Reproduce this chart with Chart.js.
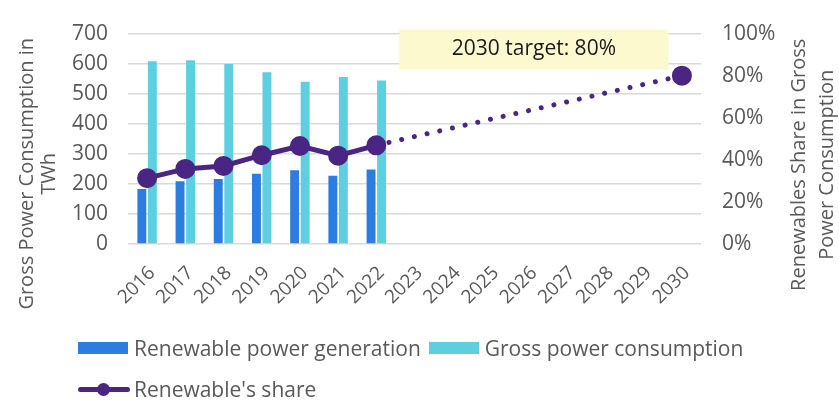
<!DOCTYPE html>
<html>
<head>
<meta charset="utf-8">
<script src="https://cdn.jsdelivr.net/npm/chart.js@4"></script>
<style>
  html, body { margin: 0; padding: 0; background: #fff; }
  #wrap { position: relative; width: 839px; height: 403px; }
  #legend { position: absolute; left: 78px; top: 335px; font-family: "Open Sans", sans-serif; font-size: 21px; color: #595959; }
  .row { display: flex; align-items: center; height: 26px; margin-bottom: 15px; }
  .item { display: flex; align-items: center; margin-right: 8px; }
  .box { width: 50px; height: 12px; margin-right: 6px; }
  .lineicon { position: relative; width: 52px; height: 13px; margin-right: 4px; }
  .lineicon .ln { position: absolute; left: 0; right: 0; top: 4px; height: 5px; border-radius: 3px; }
  .lineicon .dot { position: absolute; left: 19px; top: 0; width: 13px; height: 13px; border-radius: 50%; }
</style>
</head>
<body>
<div id="wrap">
  <canvas id="chart" width="839" height="403"></canvas>
  <div id="legend"></div>
</div>
<script>
// data
const years = ['2016','2017','2018','2019','2020','2021','2022','2023','2024','2025','2026','2027','2028','2029','2030'];
const renewableGen = [183, 209, 216, 234, 245, 227, 248, null, null, null, null, null, null, null, null];
const grossConsumption = [608, 611, 599, 571, 540, 556, 544, null, null, null, null, null, null, null, null];
const renewableShare = [31.3, 35.7, 37.1, 42.2, 46.6, 42.0, 46.9, null, null, null, null, null, null, null, 80];
const targetText = '2030 target: 80%';

const BLUE = '#2b7de1';
const CYAN = '#5ecfdf';
const PURPLE = '#4a2583';
const GREY = '#595959';
const FONT = '"Open Sans", sans-serif';

// yellow target box, drawn behind the line
const targetBox = {
  id: 'targetBox',
  beforeDatasetsDraw(chart) {
    const { ctx, scales } = chart;
    const x1 = scales.x.getPixelForValue(6.6);
    const x2 = scales.x.getPixelForValue(13.65);
    const y1 = scales.y1.getPixelForValue(102);
    const y2 = scales.y1.getPixelForValue(83);
    ctx.save();
    ctx.fillStyle = '#fdf9cf';
    ctx.fillRect(x1, y1, x2 - x1, y2 - y1);
    ctx.fillStyle = '#1a1a1a';
    ctx.font = '21px ' + FONT;
    ctx.textAlign = 'center';
    ctx.textBaseline = 'middle';
    ctx.fillText(targetText, (x1 + x2) / 2, (y1 + y2) / 2);
    ctx.restore();
  }
};

// axis titles
const axisTitles = {
  id: 'axisTitles',
  afterDraw(chart) {
    const { ctx, chartArea } = chart;
    const cy = (chartArea.top + chartArea.bottom) / 2;
    ctx.save();
    ctx.fillStyle = GREY;
    ctx.font = '20px ' + FONT;
    ctx.textAlign = 'center';
    ctx.textBaseline = 'middle';
    ctx.translate(27, cy + 35);
    ctx.rotate(-Math.PI / 2);
    ctx.fillText('Gross Power Consumption in', 0, 0);
    ctx.fillText('TWh', 0, 22);
    ctx.restore();
    ctx.save();
    ctx.fillStyle = GREY;
    ctx.font = '20px ' + FONT;
    ctx.textAlign = 'center';
    ctx.textBaseline = 'middle';
    ctx.translate(799, cy + 26);
    ctx.rotate(-Math.PI / 2);
    ctx.fillText('Renewables Share in Gross', 0, 0);
    ctx.fillText('Power Consumption', 0, 28);
    ctx.restore();
  }
};

const chart = new Chart(document.getElementById('chart'), {
  data: {
    labels: years,
    datasets: [
      {
        type: 'bar',
        label: 'Renewable power generation',
        data: renewableGen,
        backgroundColor: BLUE,
        yAxisID: 'y',
        order: 2,
        categoryPercentage: 0.55,
        barPercentage: 0.85
      },
      {
        type: 'bar',
        label: 'Gross power consumption',
        data: grossConsumption,
        backgroundColor: CYAN,
        yAxisID: 'y',
        order: 2,
        categoryPercentage: 0.55,
        barPercentage: 0.85
      },
      {
        type: 'line',
        label: "Renewable's share",
        data: renewableShare,
        borderColor: PURPLE,
        backgroundColor: PURPLE,
        borderWidth: 5,
        borderCapStyle: 'round',
        pointRadius: 7.5,
        pointHoverRadius: 7.5,
        spanGaps: true,
        yAxisID: 'y1',
        order: 1,
        segment: {
          // dotted where the line spans the years without data
          borderDash: ctx => (ctx.p0.skip || ctx.p1.skip ? [0.01, 13] : undefined)
        }
      }
    ]
  },
  options: {
    responsive: false,
    animation: false,
    layout: { padding: { top: 16, left: 0, right: 0, bottom: 0 } },
    plugins: {
      legend: { display: false },
      tooltip: { enabled: false }
    },
    scales: {
      x: {
        grid: { display: false },
        border: { display: false },
        ticks: {
          color: GREY,
          font: { family: FONT, size: 19 },
          minRotation: 45,
          maxRotation: 45,
          padding: 10,
          labelOffset: 5
        },
        afterFit(scale) { scale.height = 159; }
      },
      y: {
        position: 'left',
        min: 0,
        max: 700,
        grid: { color: '#d9d9d9', lineWidth: 1.5, drawTicks: false },
        border: { display: false },
        ticks: {
          stepSize: 100,
          color: GREY,
          font: { family: FONT, size: 21 },
          padding: 20
        },
        afterFit(scale) { scale.width = 128; }
      },
      y1: {
        position: 'right',
        min: 0,
        max: 100,
        grid: { display: false, drawTicks: false },
        border: { display: false },
        ticks: {
          stepSize: 20,
          color: GREY,
          font: { family: FONT, size: 21 },
          padding: 21,
          callback: v => v + '%'
        },
        afterFit(scale) { scale.width = 138; }
      }
    }
  },
  plugins: [targetBox, axisTitles]
});

// legend, built from the datasets
const legend = document.getElementById('legend');
const ds = chart.data.datasets;
const row1 = document.createElement('div');
row1.className = 'row';
[ds[0], ds[1]].forEach(d => {
  const it = document.createElement('div');
  it.className = 'item';
  it.innerHTML = '<div class="box" style="background:' + d.backgroundColor + '"></div><span>' + d.label + '</span>';
  row1.appendChild(it);
});
const row2 = document.createElement('div');
row2.className = 'row';
row2.innerHTML = '<div class="item"><div class="lineicon"><div class="ln" style="background:' + ds[2].borderColor +
  '"></div><div class="dot" style="background:' + ds[2].borderColor + '"></div></div><span>' + ds[2].label + '</span></div>';
legend.appendChild(row1);
legend.appendChild(row2);
</script>
</body>
</html>
